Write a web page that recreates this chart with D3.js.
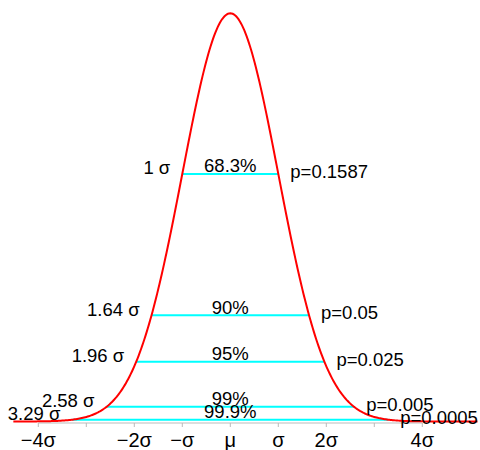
<!DOCTYPE html>
<html><head><meta charset="utf-8">
<script src="https://cdn.jsdelivr.net/npm/d3@7"></script>
<style>body{margin:0;background:#fff}</style>
</head><body>
<svg id="c" width="480" height="450"></svg>
<script>
// sigma multiples for the interval lines
const sigmas = [1, 1.64, 1.96, 2.58, 3.29];
const leftLabels = ["1 σ", "1.64 σ", "1.96 σ", "2.58 σ", "3.29 σ"];
const pctLabels = ["68.3%", "90%", "95%", "99%", "99.9%"];
const pLabels = ["p=0.1587", "p=0.05", "p=0.025", "p=0.005", "p=0.0005"];
// axis ticks (in sigma units) and their labels
const tickValues = [-4, -3, -2, -1, 0, 1, 2, 3, 4];
const tickLabels = ["−4σ", "", "−2σ", "−σ", "μ", "σ", "2σ", "", "4σ"];
// curve extent (in sigma units)
const curveRange = [-4.52, 5.15];

const svg = d3.select("#c");
const font = "'Liberation Sans', Arial, sans-serif";
const x = d3.scaleLinear().domain([-4, 4]).range([38.3, 422.3]);
const peak = 1 / Math.sqrt(2 * Math.PI);
const y = d3.scaleLinear().domain([0, peak]).range([421.5, 13.3]);
const dens = z => Math.exp(-z * z / 2) / Math.sqrt(2 * Math.PI);

// axis
const axisY = 423;
svg.append("line").attr("x1", x(-4)).attr("x2", x(4)).attr("y1", axisY).attr("y2", axisY)
  .attr("stroke", "#bbb").attr("stroke-width", 1);
svg.selectAll("line.tick").data(tickValues).join("line").attr("class", "tick")
  .attr("x1", d => x(d)).attr("x2", d => x(d)).attr("y1", axisY).attr("y2", axisY + 4)
  .attr("stroke", "#bbb").attr("stroke-width", 1);
svg.selectAll("text.tl").data(tickValues).join("text").attr("class", "tl")
  .attr("x", d => x(d)).attr("y", 447).attr("text-anchor", "middle")
  .attr("font-family", font).attr("font-size", 20).attr("fill", "#000")
  .text((d, i) => tickLabels[i]);

// interval lines
svg.selectAll("line.iv").data(sigmas).join("line").attr("class", "iv")
  .attr("x1", d => x(-d)).attr("x2", d => x(d))
  .attr("y1", d => y(dens(d))).attr("y2", d => y(dens(d)))
  .attr("stroke", "#00ffff").attr("stroke-width", 2);

// curve
const n = 400;
const pts = d3.range(n + 1).map(i => curveRange[0] + (curveRange[1] - curveRange[0]) * i / n);
svg.append("path").datum(pts)
  .attr("d", d3.line().x(d => x(d)).y(d => y(dens(d))))
  .attr("fill", "none").attr("stroke", "#ff0000").attr("stroke-width", 2);

// labels
const fs = 18.5;
svg.selectAll("text.ll").data(sigmas).join("text").attr("class", "ll")
  .attr("x", d => x(-d) - 12).attr("y", d => y(dens(d)) + 0.5)
  .attr("text-anchor", "end").attr("font-family", font).attr("font-size", fs)
  .text((d, i) => leftLabels[i]);
svg.selectAll("text.ml").data(sigmas).join("text").attr("class", "ml")
  .attr("x", x(0)).attr("y", d => y(dens(d)) - 1.5)
  .attr("text-anchor", "middle").attr("font-family", font).attr("font-size", fs)
  .text((d, i) => pctLabels[i]);
svg.selectAll("text.rl").data(sigmas).join("text").attr("class", "rl")
  .attr("x", d => x(d) + 12).attr("y", d => y(dens(d)) + 4)
  .attr("text-anchor", "start").attr("font-family", font).attr("font-size", fs)
  .text((d, i) => pLabels[i]);
</script>
</body></html>
